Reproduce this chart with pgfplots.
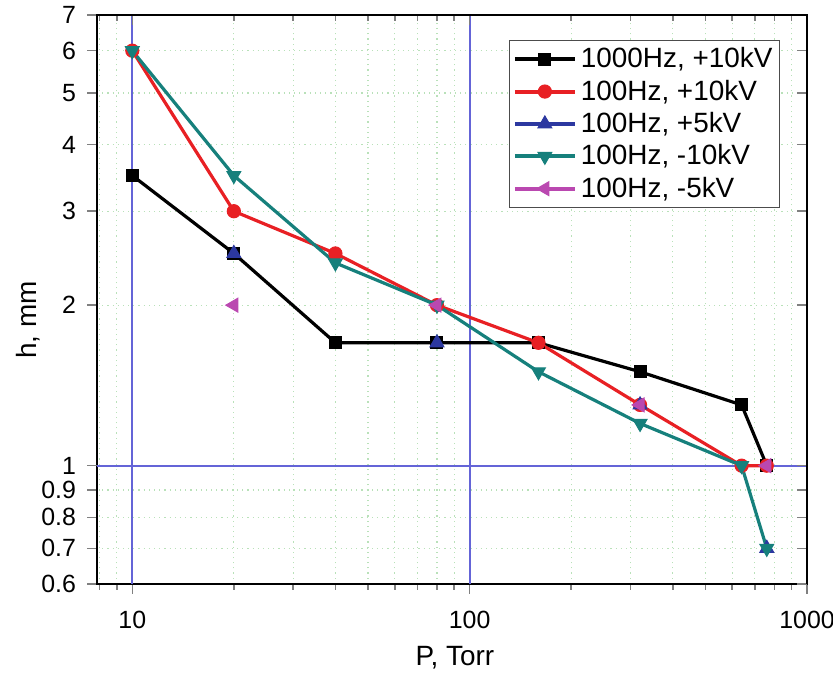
\documentclass[border=0pt]{standalone}
\usepackage{pgfplots}
\pgfplotsset{compat=1.18}
\usepackage{fontspec}
\setmainfont{Liberation Sans}
\definecolor{cred}{RGB}{232,32,36}
\definecolor{cblue}{RGB}{44,56,160}
\definecolor{cteal}{RGB}{22,128,124}
\definecolor{cpurp}{RGB}{186,72,176}
\definecolor{gridg}{RGB}{185,225,185}
\definecolor{gridb}{RGB}{100,100,215}
\begin{document}
\begin{tikzpicture}
\begin{axis}[
  name=ax,
  scale only axis,
  width=355bp, height=284.5bp,
  xmode=log, ymode=log,
  xmin=7.86, xmax=1000, ymin=0.6, ymax=7,
  axis line style={line width=1bp},
  tick style={line width=0.8bp},
  tick align=outside, tick pos=left,
  major tick length=5bp, minor tick length=3bp,
  xtick={10,100,1000}, xticklabels={10,100,1000},
  minor xtick={8,9,20,30,40,50,60,70,80,90,200,300,400,500,600,700,800,900},
  ytick={0.6,0.7,0.8,0.9,2,3,4,5,6,7},
  yticklabels={0.6,0.7,0.8,0.9,2,3,4,5,6,7},
  minor ytick={7},
  extra y ticks={1}, extra y tick labels={1},
  extra y tick style={grid=major, major grid style={draw=gridb,line width=0.9bp,solid}},
  extra x ticks={10,100}, extra x tick labels={},
  extra x tick style={grid=major, major tick length=0pt, major grid style={draw=gridb,line width=0.9bp,solid}},
  grid=both,
  major grid style={draw=gridg,line width=0.6bp,dotted},
  minor grid style={draw=gridg,line width=0.6bp,dotted},
  ticklabel style={font=\fontsize{12.5}{14}\selectfont},
  xticklabel style={yshift=-5bp},
  yticklabel style={xshift=-2bp},
  xlabel={P, Torr}, ylabel={h, mm},
  label style={font=\fontsize{14}{16}\selectfont},
  xlabel style={at={(axis description cs:0.504,-0.13)},anchor=center},
  ylabel style={at={(axis description cs:-0.097,0.464)},anchor=center},
  legend style={at={(axis description cs:1,1)},anchor=north east,xshift=-13.5bp,yshift=-12.5bp,
    font=\fontsize{14}{16}\selectfont, draw=black!70, line width=0.6bp, inner sep=1.5bp,
    row sep=0.6bp},
  legend cell align=left,
  legend image code/.code={\draw[mark repeat=2,mark phase=2,line width=2bp] plot coordinates {(0cm,0cm)(0.53cm,0cm)(1.06cm,0cm)};},
  every axis plot/.append style={line width=1.6bp},
]
\addplot[black, mark=square*, mark size=3bp, mark options={fill=black,line width=0.5bp}]
  coordinates {(10,3.5)(20,2.5)(40,1.7)(80,1.7)(160,1.7)(320,1.5)(640,1.3)(760,1.0)};
\addlegendentry{1000Hz, +10kV}
\addplot[cred, mark=*, mark size=3.3bp, mark options={fill=cred,line width=0.5bp}]
  coordinates {(10,6)(20,3)(40,2.5)(80,2)(160,1.7)(320,1.3)(640,1.0)(760,1.0)};
\addlegendentry{100Hz, +10kV}
\addplot[cblue, only marks, mark=triangle*, mark size=4bp, mark options={fill=cblue,line width=0.5bp},
  legend image code/.code={\draw[line width=2bp] (0cm,0cm) -- (1.06cm,0cm); \draw plot coordinates {(0.53cm,0cm)};}]
  coordinates {(20,2.5)(80,1.7)(320,1.3)(760,0.7)};
\addlegendentry{100Hz, +5kV}
\addplot[cteal, mark=triangle*, mark size=4bp, mark options={fill=cteal,rotate=180,line width=0.5bp}]
  coordinates {(10,6)(20,3.5)(40,2.4)(80,2.0)(160,1.5)(320,1.2)(640,1.0)(760,0.7)};
\addlegendentry{100Hz, -10kV}
\addplot[cpurp, only marks, mark=triangle*, mark size=4bp, mark options={fill=cpurp,rotate=90,line width=0.5bp},
  legend image code/.code={\draw[line width=2bp] (0cm,0cm) -- (1.06cm,0cm); \draw plot coordinates {(0.53cm,0cm)};}]
  coordinates {(20,2.0)(80,2.0)(320,1.3)(760,1.0)};
\addlegendentry{100Hz, -5kV}
\end{axis}
\begin{axis}[
  scale only axis,
  width=355bp, height=284.5bp,
  xmode=log, ymode=log,
  xmin=7.86, xmax=1000, ymin=0.6, ymax=7,
  axis x line*=top, axis y line*=right,
  axis line style={line width=1bp},
  tick style={line width=0.8bp},
  tick align=inside,
  major tick length=5bp, minor tick length=3bp,
  xtick={10,100,1000}, xticklabels={},
  minor xtick={8,9,20,30,40,50,60,70,80,90,200,300,400,500,600,700,800,900},
  ytick={0.6,0.7,0.8,0.9,1,2,3,4,5,6,7}, yticklabels={},
  minor ytick={7},
]
\end{axis}
\pgfresetboundingbox
\path ([xshift=-48.5bp,yshift=-46.5bp]ax.south west) rectangle ([xshift=13bp,yshift=7.5bp]ax.north east);
\end{tikzpicture}
\end{document}
